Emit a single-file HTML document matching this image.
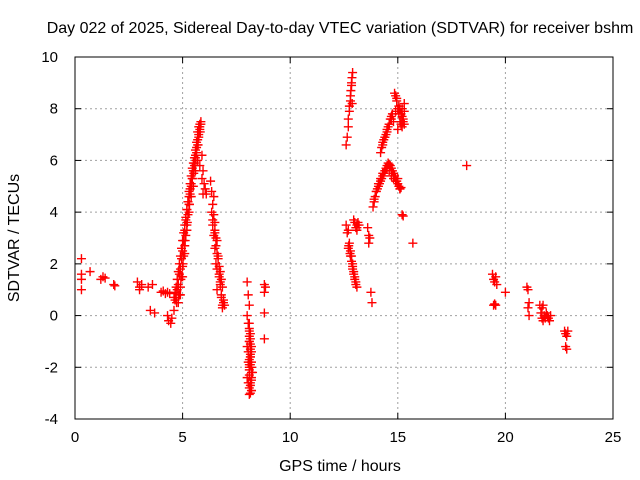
<!DOCTYPE html>
<html><head><meta charset="utf-8"><style>
body{margin:0;background:#fff}
svg{display:block;font-family:"Liberation Sans",sans-serif}
</style></head><body>
<svg id="c" width="640" height="480"></svg>
<script>
const xTicks=[0,5,10,15,20,25];
const yTicks=[-4,-2,0,2,4,6,8,10];
const tHours=[0.3,0.3,0.3,0.3,0.7,1.2,1.3,1.4,1.8,1.85,2.9,3.0,3.1,3.0,3.4,3.6,3.5,3.7,
4.0,4.1,4.2,4.3,4.4,4.3,4.35,4.45,4.5,4.6,4.65,4.7,4.72,4.75,4.8,4.82,4.85,4.9,4.92,4.95,5.0,5.02,5.05,5.1,5.12,5.15,5.2,5.22,5.25,5.3,5.32,5.35,5.4,5.42,5.45,5.5,5.52,5.55,5.6,5.62,5.65,5.7,5.72,5.75,5.8,5.82,5.85,
4.9,5.0,5.1,5.2,5.3,5.4,5.5,5.6,5.7,5.8,5.9,6.0,5.95,6.05,6.1,
4.6,4.65,4.7,4.75,4.8,4.85,4.9,4.95,5.0,5.05,5.1,5.15,5.2,5.25,5.3,5.35,5.4,5.45,5.5,5.55,5.6,5.65,5.7,5.75,5.8,5.85,5.9,5.95,
4.8,4.85,4.9,4.95,5.0,5.05,5.1,5.15,5.2,5.25,5.3,5.35,5.4,5.45,5.5,5.55,5.6,5.65,5.7,5.75,5.8,
6.3,6.35,6.4,6.45,6.5,6.4,6.45,6.5,6.55,6.6,6.5,6.55,6.6,6.65,6.7,6.75,6.8,6.85,6.6,6.7,6.75,6.8,6.85,6.9,
6.35,6.4,6.45,6.5,6.55,6.6,6.65,6.7,6.75,6.8,6.85,6.9,6.95,
8.0,8.05,8.1,8.0,8.05,8.1,8.15,8.0,8.05,8.1,8.15,8.2,8.0,8.05,8.1,8.15,8.2,8.25,8.1,8.15,8.2,8.05,8.1,8.15,8.2,8.1,8.15,8.1,
8.1,8.15,8.2,8.1,8.15,8.2,8.1,8.15,8.2,8.1,8.15,8.2,8.1,8.15,8.2,8.1,
8.8,8.8,8.8,8.8,8.85,
12.6,12.65,12.7,12.7,12.75,12.75,12.8,12.8,12.82,12.85,12.85,12.87,12.9,12.88,
12.6,12.7,12.75,12.8,12.85,12.9,12.95,13.0,13.05,13.1,13.1,13.0,13.1,13.15,13.2,12.7,12.8,12.9,
12.65,12.72,12.78,12.85,12.9,12.95,13.0,13.05,13.1,12.95,13.05,
13.6,13.65,13.7,13.65,13.75,13.8,
13.85,13.9,13.95,14.0,14.05,14.1,14.15,14.2,14.25,14.3,14.35,14.4,14.45,14.5,14.55,14.6,14.65,14.7,14.75,14.8,14.85,14.9,14.95,15.0,15.05,15.1,15.15,15.2,15.25,15.7,
13.9,14.0,14.1,14.2,14.3,14.4,14.5,14.6,14.7,14.8,14.9,15.0,15.1,
14.2,14.25,14.3,14.35,14.4,14.45,14.5,14.55,14.6,14.65,14.7,14.75,14.8,
14.3,14.4,14.5,14.6,14.7,
14.85,14.9,14.95,15.0,15.05,15.1,15.15,15.2,15.25,15.3,14.9,15.0,15.1,15.2,15.3,
14.95,15.05,15.15,15.25,15.2,15.3,
18.2,19.4,19.45,19.5,19.55,19.6,19.45,19.5,19.55,20.0,
21.0,21.05,21.1,21.05,21.1,21.6,21.65,21.7,21.75,21.8,21.85,21.9,21.95,22.0,22.05,22.1,21.7,21.75,
22.75,22.8,22.85,22.9,22.8,22.85];
const vTec=[2.2,1.6,1.4,1.0,1.7,1.4,1.5,1.45,1.2,1.15,1.3,1.1,1.2,1.0,1.1,1.2,0.2,0.1,
0.9,0.95,0.85,0.9,0.85,0.0,-0.2,-0.3,-0.1,0.2,0.6,0.7,0.5,1.0,1.2,0.8,1.6,1.8,1.4,2.2,2.5,2.0,2.9,3.3,2.9,3.7,4.1,3.6,4.4,4.8,4.3,5.1,5.4,5.0,5.7,5.9,5.5,6.1,6.4,6.0,6.7,7.1,6.6,7.3,7.4,7.1,7.5,
0.8,1.5,2.4,3.3,4.0,4.6,5.0,5.6,6.0,5.8,5.3,5.1,4.7,4.9,4.7,
0.7,0.9,1.1,1.4,1.7,2.0,2.3,2.6,2.9,3.2,3.5,3.8,4.1,4.4,4.6,4.9,5.1,5.3,5.6,5.8,6.1,6.3,6.6,6.9,7.2,7.4,6.2,5.6,
0.5,0.8,1.1,1.5,1.9,2.3,2.7,3.1,3.5,3.9,4.3,4.7,5.0,5.3,5.6,5.9,6.2,6.5,6.8,7.0,7.3,
5.2,4.8,4.3,4.6,3.6,3.5,3.1,3.3,2.7,2.4,2.6,2.0,1.8,2.2,1.5,1.2,0.7,0.4,1.0,1.6,1.3,0.8,0.3,0.5,
4.0,3.7,3.9,3.2,3.0,2.9,2.3,1.9,1.7,1.4,1.1,0.6,0.4,
1.3,0.8,0.4,0.0,-0.3,-0.6,-0.9,-1.2,-1.4,-1.7,-1.9,-2.2,-2.4,-2.6,-2.8,-3.0,-2.5,-2.2,-1.0,-1.5,-2.0,-1.8,-2.3,-1.6,-2.9,-0.5,-1.1,-3.05,
-0.8,-1.3,-1.8,-2.1,-2.6,-2.9,-1.0,-1.6,-2.4,-0.3,-0.7,-1.4,-2.0,-2.7,-1.2,-1.9,
1.2,0.9,0.1,-0.9,1.1,
6.6,6.9,7.3,7.6,7.9,8.1,8.3,8.5,8.7,8.9,9.0,9.2,9.4,8.2,
3.5,3.3,2.8,2.5,2.3,2.0,1.7,1.5,1.3,1.1,3.5,3.6,3.4,3.6,3.5,2.6,2.3,1.9,
3.2,2.7,2.4,2.1,1.8,1.6,1.4,1.2,3.3,3.7,3.4,
3.4,3.1,3.0,2.8,0.9,0.5,
4.2,4.4,4.6,4.8,4.9,5.0,5.1,5.2,5.3,5.4,5.5,5.6,5.7,5.8,5.9,5.85,5.8,5.7,5.6,5.5,5.4,5.3,5.2,5.1,5.0,4.9,4.95,3.9,3.85,2.8,
4.5,4.8,5.1,5.3,5.5,5.6,5.7,5.6,5.4,5.3,5.2,5.3,4.9,
6.3,6.5,6.6,6.8,6.9,7.0,7.1,7.3,7.4,7.6,7.7,7.8,7.5,
6.7,6.9,7.2,7.4,7.6,
8.6,8.5,8.3,8.0,7.8,7.5,7.4,7.3,7.6,8.2,7.9,7.2,8.0,7.7,7.4,
8.4,8.1,7.8,7.5,8.0,7.9,
5.8,1.6,1.4,1.3,1.5,1.2,0.4,0.45,0.4,0.9,
1.1,1.0,0.5,0.3,0.0,0.4,0.1,-0.1,-0.2,0.0,-0.1,0.1,0.0,-0.1,-0.2,0.0,0.3,0.4,
-0.6,-0.7,-0.8,-0.6,-1.2,-1.3];

const NS='http://www.w3.org/2000/svg';
const svg=document.getElementById('c');
const L=75,R=613,T=57,B=419;
const xs=v=>L+(v-0)/(25-0)*(R-L);
const ys=v=>B-(v+4)/(10+4)*(B-T);
function mk(tag,at,par){const e=document.createElementNS(NS,tag);for(const k in at)e.setAttribute(k,at[k]);(par||svg).appendChild(e);return e;}
const grid=mk('g',{});


xTicks.forEach(t=>{if(t>0&&t<25)mk('line',{x1:xs(t),x2:xs(t),y1:T,y2:B,stroke:'#a0a0a0','stroke-dasharray':'2,3'},grid);});
yTicks.forEach(t=>{if(t>-4&&t<10)mk('line',{x1:L,x2:R,y1:ys(t),y2:ys(t),stroke:'#a0a0a0','stroke-dasharray':'2,3'},grid);});
const frame=mk('rect',{x:L,y:T,width:R-L,height:B-T,fill:'none',stroke:'#000'});


xTicks.forEach(t=>{
 mk('line',{x1:xs(t),x2:xs(t),y1:B,y2:B-6,stroke:'#000'});mk('line',{x1:xs(t),x2:xs(t),y1:T,y2:T+6,stroke:'#000'});
 const tx=mk('text',{x:xs(t),y:B+23,'text-anchor':'middle','font-size':'15'});tx.textContent=t;
 
 
});
yTicks.forEach(t=>{
 mk('line',{x1:L,x2:L+6,y1:ys(t),y2:ys(t),stroke:'#000'});mk('line',{x1:R,x2:R-6,y1:ys(t),y2:ys(t),stroke:'#000'});
 const tx=mk('text',{x:L-17,y:ys(t)+5,'text-anchor':'end','font-size':'15'});tx.textContent=t;
 
 
});
const pts=mk('g',{stroke:'#ff0000','stroke-width':'1.4'});


tHours.forEach((t,i)=>{
 const x=xs(t),y=ys(vTec[i]);
 const p=mk('path',{d:`M${x-4.5},${y}H${x+4.5}M${x},${y-4.5}V${y+4.5}`},pts);
 
 
});
const title=mk('text',{x:340,y:33,'text-anchor':'middle','font-size':'16'});
title.textContent='Day 022 of 2025, Sidereal Day-to-day VTEC variation (SDTVAR) for receiver bshm';


const xt=mk('text',{x:340,y:471,'text-anchor':'middle','font-size':'16'});
xt.textContent='GPS time / hours';


const yt=mk('text',{x:0,y:0,'text-anchor':'middle','font-size':'16',transform:'translate(19,238) rotate(-90)'});
yt.textContent='SDTVAR / TECUs';


</script>
</body></html>
